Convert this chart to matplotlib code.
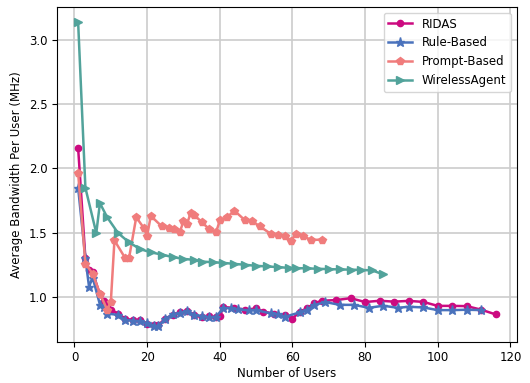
import matplotlib
matplotlib.use("Agg")
import matplotlib.pyplot as plt

# RIDAS
ridas_x = [1, 3, 4, 5, 7, 8, 9, 10, 12, 14, 16, 18, 20, 22, 23, 25, 27, 29, 31, 33, 35, 37, 39, 40,
           41, 44, 47, 50, 52, 55, 58, 60, 62, 64, 66, 68, 72, 76, 80, 84, 88, 92, 96, 100, 104, 108, 112, 116]
ridas_y = [2.16, 1.30, 1.21, 1.19, 1.02, 0.97, 0.93, 0.90, 0.87, 0.83, 0.82, 0.82, 0.79, 0.78, 0.78, 0.83,
           0.86, 0.88, 0.89, 0.86, 0.84, 0.85, 0.84, 0.85, 0.92, 0.915, 0.90, 0.91, 0.885, 0.87, 0.86, 0.83,
           0.885, 0.91, 0.95, 0.97, 0.975, 0.99, 0.96, 0.97, 0.963, 0.969, 0.961, 0.93, 0.93, 0.928, 0.90, 0.863]

# Rule-Based
rule_x = [1, 3, 4, 5, 7, 8, 9, 12, 14, 16, 18, 20, 22, 23, 25, 27, 29, 31, 33, 35, 37, 39, 41, 43, 45,
          48, 50, 54, 56, 58, 62, 64, 66, 69, 73, 77, 81, 85, 89, 92, 96, 100, 104, 108, 112]
rule_y = [1.85, 1.30, 1.08, 1.15, 0.94, 0.92, 0.87, 0.86, 0.82, 0.815, 0.81, 0.795, 0.776, 0.77, 0.83,
          0.863, 0.875, 0.89, 0.86, 0.85, 0.84, 0.846, 0.915, 0.91, 0.902, 0.895, 0.897, 0.871, 0.863,
          0.846, 0.879, 0.90, 0.936, 0.96, 0.938, 0.938, 0.915, 0.931, 0.915, 0.923, 0.918, 0.897, 0.897,
          0.90, 0.897]

# Prompt-Based
prompt_x = [1, 3, 5, 7, 9, 10, 11, 14, 15, 17, 19, 20, 21, 24, 26, 27.5, 29, 30, 31, 32, 33, 35, 37, 39,
            40, 42, 44, 47, 49, 51, 54, 56, 58, 59.5, 61, 63, 65, 68]
prompt_y = [1.965, 1.26, 1.18, 1.025, 0.90, 0.96, 1.44, 1.30, 1.30, 1.62, 1.54, 1.476, 1.631, 1.55,
            1.54, 1.53, 1.505, 1.589, 1.57, 1.656, 1.636, 1.584, 1.53, 1.505, 1.595, 1.62, 1.672, 1.595,
            1.59, 1.549, 1.492, 1.48, 1.474, 1.438, 1.489, 1.476, 1.443, 1.446]

# WirelessAgent
wa_x = [1, 3, 6, 7, 9, 12, 15, 18, 21, 24, 27, 30, 33, 35, 38, 41, 44, 47, 50, 53, 56, 59, 61, 64,
        67, 70, 73, 76, 79, 82, 85]
wa_y = [3.14, 1.85, 1.497, 1.73, 1.62, 1.497, 1.425, 1.373, 1.347, 1.33, 1.31, 1.296, 1.288, 1.275,
        1.27, 1.265, 1.257, 1.25, 1.242, 1.237, 1.232, 1.226, 1.224, 1.222, 1.219, 1.216, 1.214, 1.212,
        1.21, 1.206, 1.175]

fig, ax = plt.subplots(figsize=(5.3, 3.83), dpi=100)
fig.subplots_adjust(left=0.108, right=0.975, top=0.982, bottom=0.108)

ax.plot(ridas_x, ridas_y, color='#cc0a80', marker='o', markersize=4.5, linewidth=1.8, label='RIDAS')
ax.plot(rule_x, rule_y, color='#4a72bc', marker='*', markersize=6.5, linewidth=1.8, label='Rule-Based')
ax.plot(prompt_x, prompt_y, color='#f07c7c', marker='p', markersize=5.5, linewidth=1.8, label='Prompt-Based')
ax.plot(wa_x, wa_y, color='#52a39b', marker='>', markersize=5.5, linewidth=1.8, label='WirelessAgent')

ax.set_xlabel('Number of Users', fontsize=8.5, labelpad=2)
ax.set_ylabel('Average Bandwidth Per User (MHz)', fontsize=8.5)
ax.tick_params(labelsize=8.5)
ax.grid(True, color='#cccccc', linewidth=1.2)
ax.legend(loc='upper right', fontsize=8.5)

plt.savefig('out.png')
